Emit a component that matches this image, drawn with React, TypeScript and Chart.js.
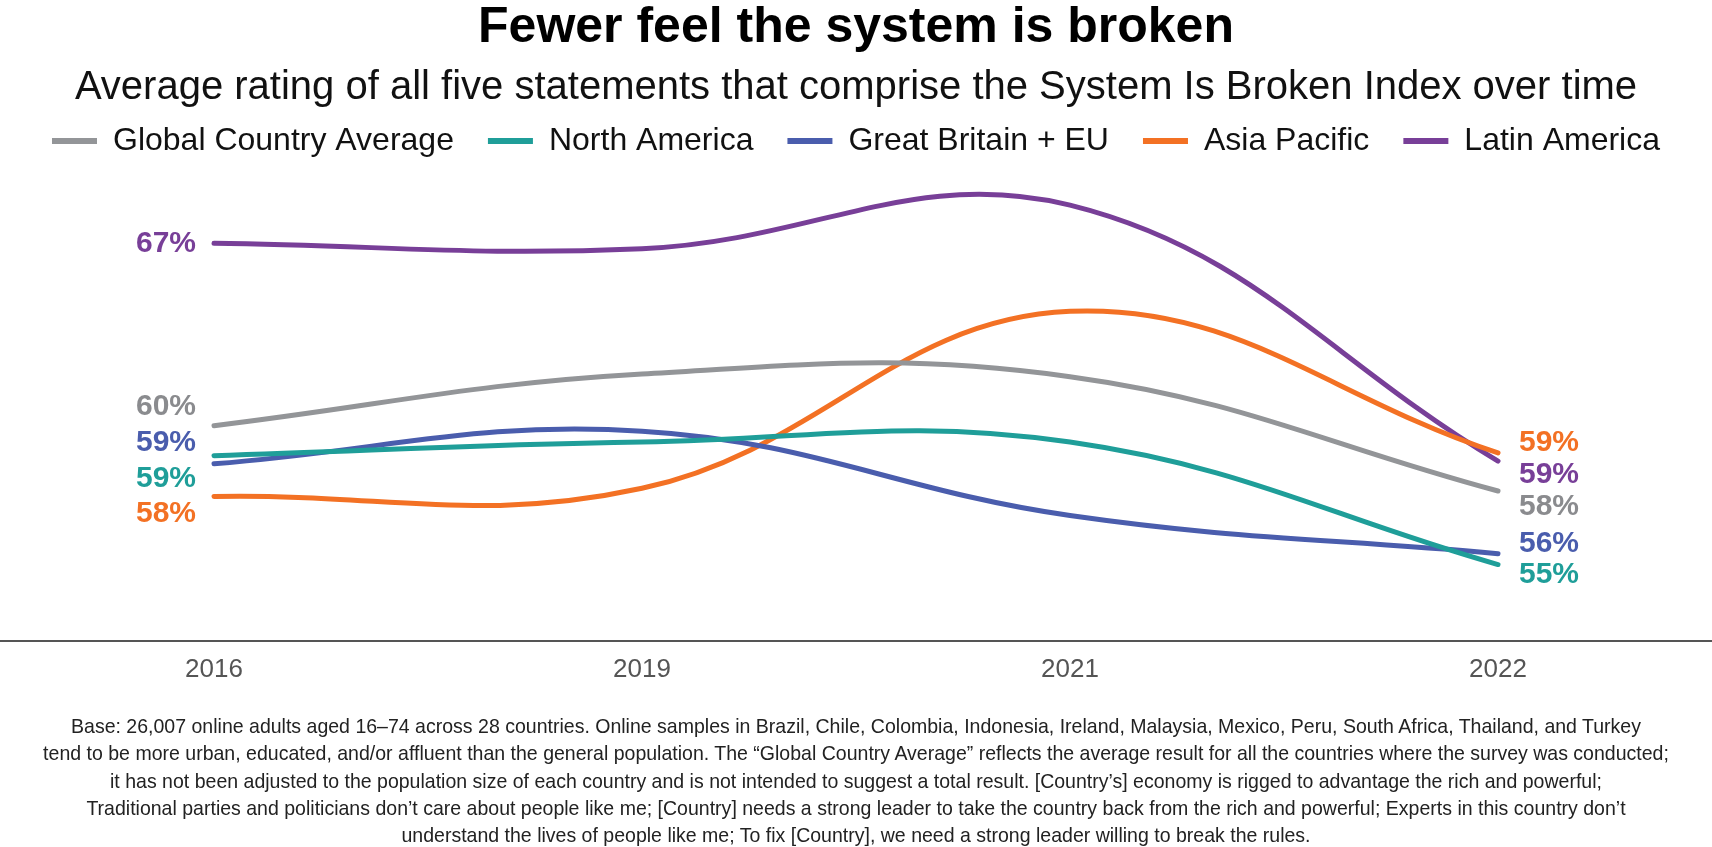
import React, { useEffect, useLayoutEffect, useRef, useState } from "react";
import { Chart, registerables } from "chart.js";

Chart.register(...registerables);

// data
const years = ["2016", "2019", "2021", "2022"];
const seriesNames = ["Global Country Average", "North America", "Great Britain + EU", "Asia Pacific", "Latin America"];
const globalAverage = [60.3, 62.2, 62.1, 57.9];
const northAmerica = [59.2, 59.7, 59.7, 55.2];
const britainEu = [58.9, 60.1, 57.0, 55.6];
const asiaPacific = [57.7, 58.0, 64.5, 59.3];
const latinAmerica = [67.0, 66.8, 68.4, 59.0];

const lineColors = ["#939598", "#1f9e99", "#4a5dad", "#f37124", "#783f98"];
const labelColors = ["#8a8b8e", "#1f9e99", "#4a5dad", "#f37124", "#783f98"];
// vertical nudges (px) so end labels don't collide
const startNudge = [-19, 23, -21, 17, 0];
const endNudge = [16, 10, -10, -10, 14];

const footnote = [
	"Base: 26,007 online adults aged 16–74 across 28 countries. Online samples in Brazil, Chile, Colombia, Indonesia, Ireland, Malaysia, Mexico, Peru, South Africa, Thailand, and Turkey",
	"tend to be more urban, educated, and/or affluent than the general population. The “Global Country Average” reflects the average result for all the countries where the survey was conducted;",
	"it has not been adjusted to the population size of each country and is not intended to suggest a total result. [Country’s] economy is rigged to advantage the rich and powerful;",
	"Traditional parties and politicians don’t care about people like me; [Country] needs a strong leader to take the country back from the rich and powerful; Experts in this country don’t",
	"understand the lives of people like me; To fix [Country], we need a strong leader willing to break the rules.",
];

const FONT = "'Liberation Sans', Arial, Helvetica, sans-serif";

const endLabels = {
	id: "endLabels",
	afterDatasetsDraw(chart: any) {
		const ctx = chart.ctx;
		ctx.save();
		ctx.font = `bold 30px ${FONT}`;
		ctx.textBaseline = "middle";
		chart.data.datasets.forEach((ds: any, i: number) => {
			const pts = chart.getDatasetMeta(i).data;
			const first = pts[0];
			const last = pts[pts.length - 1];
			ctx.fillStyle = labelColors[i];
			ctx.textAlign = "right";
			ctx.fillText(Math.round(ds.data[0]) + "%", first.x - 18, first.y + startNudge[i]);
			ctx.textAlign = "left";
			ctx.fillText(Math.round(ds.data[ds.data.length - 1]) + "%", last.x + 21, last.y + endNudge[i]);
		});
		ctx.restore();
	},
};

const App: React.FC = () => {
	const chartRef = useRef<HTMLCanvasElement>(null);
	const chartInstance = useRef<Chart | null>(null);
	const widestLine = useRef<HTMLSpanElement>(null);
	const [noteScale, setNoteScale] = useState(1);

	// the note is set in a condensed face; squeeze a regular one to the same width
	useLayoutEffect(() => {
		if (widestLine.current) {
			setNoteScale(1626 / widestLine.current.offsetWidth);
		}
	}, []);

	useEffect(() => {
		if (!chartRef.current) return;
		if (chartInstance.current) chartInstance.current.destroy();

		const series = [globalAverage, northAmerica, britainEu, asiaPacific, latinAmerica];

		chartInstance.current = new Chart(chartRef.current, {
			type: "line",
			data: {
				labels: years,
				datasets: series.map((values, i) => ({
					label: seriesNames[i],
					data: values,
					borderColor: lineColors[i],
					backgroundColor: lineColors[i],
					borderWidth: 5,
					borderCapStyle: "round",
					tension: 0.4,
					pointRadius: 0,
					fill: false,
				})),
			},
			options: {
				responsive: false,
				animation: false,
				layout: { padding: { left: 0, right: 0, top: 0, bottom: 22 } },
				plugins: {
					title: {
						display: true,
						text: "Fewer feel the system is broken",
						color: "#000",
						font: { family: FONT, size: 50, weight: "bold", lineHeight: 1.05 },
						padding: { top: 2, bottom: 0 },
					},
					subtitle: {
						display: true,
						text: "Average rating of all five statements that comprise the System Is Broken Index over time",
						color: "#111",
						font: { family: FONT, size: 40, lineHeight: 1.0 },
						padding: { top: 13, bottom: -16.5 },
					},
					legend: {
						display: true,
						position: "top",
						labels: {
							color: "#111",
							font: { family: FONT, size: 32 },
							boxWidth: 45,
							boxHeight: 6,
							padding: 34,
							generateLabels: (chart: any) =>
								chart.data.datasets.map((ds: any, i: number) => ({
									text: ds.label,
									fillStyle: lineColors[i],
									strokeStyle: lineColors[i],
									lineWidth: 0,
									hidden: false,
									datasetIndex: i,
									fontColor: "#111",
								})),
						},
					},
					tooltip: { enabled: false },
				},
				scales: {
					x: {
						offset: true,
						grid: { display: false, drawTicks: false },
						border: { display: true, color: "#555", width: 2 },
						ticks: { color: "#555", padding: 13, font: { family: FONT, size: 26 } },
					},
					y: {
						display: false,
						min: 52.4,
						max: 69.8,
					},
				},
			},
			plugins: [endLabels],
		});

		return () => {
			if (chartInstance.current) {
				chartInstance.current.destroy();
				chartInstance.current = null;
			}
		};
	}, []);

	return (
		<div style={{ position: "absolute", left: 0, top: 0, width: 1712, height: 847, background: "#fff", overflow: "hidden" }}>
			<canvas ref={chartRef} width={1712} height={720} style={{ display: "block" }}></canvas>
			<div
				style={{
					position: "absolute",
					left: -400,
					top: 712,
					width: 2512,
					textAlign: "center",
					fontFamily: FONT,
					fontSize: 21,
					lineHeight: "27.3px",
					color: "#222",
					whiteSpace: "nowrap",
					transform: `scaleX(${noteScale})`,
					transformOrigin: "1256px 0",
				}}
			>
				{footnote.map((line, i) => (
					<div key={i}>
						<span ref={i === 1 ? widestLine : undefined}>{line}</span>
					</div>
				))}
			</div>
		</div>
	);
};

export default App;
